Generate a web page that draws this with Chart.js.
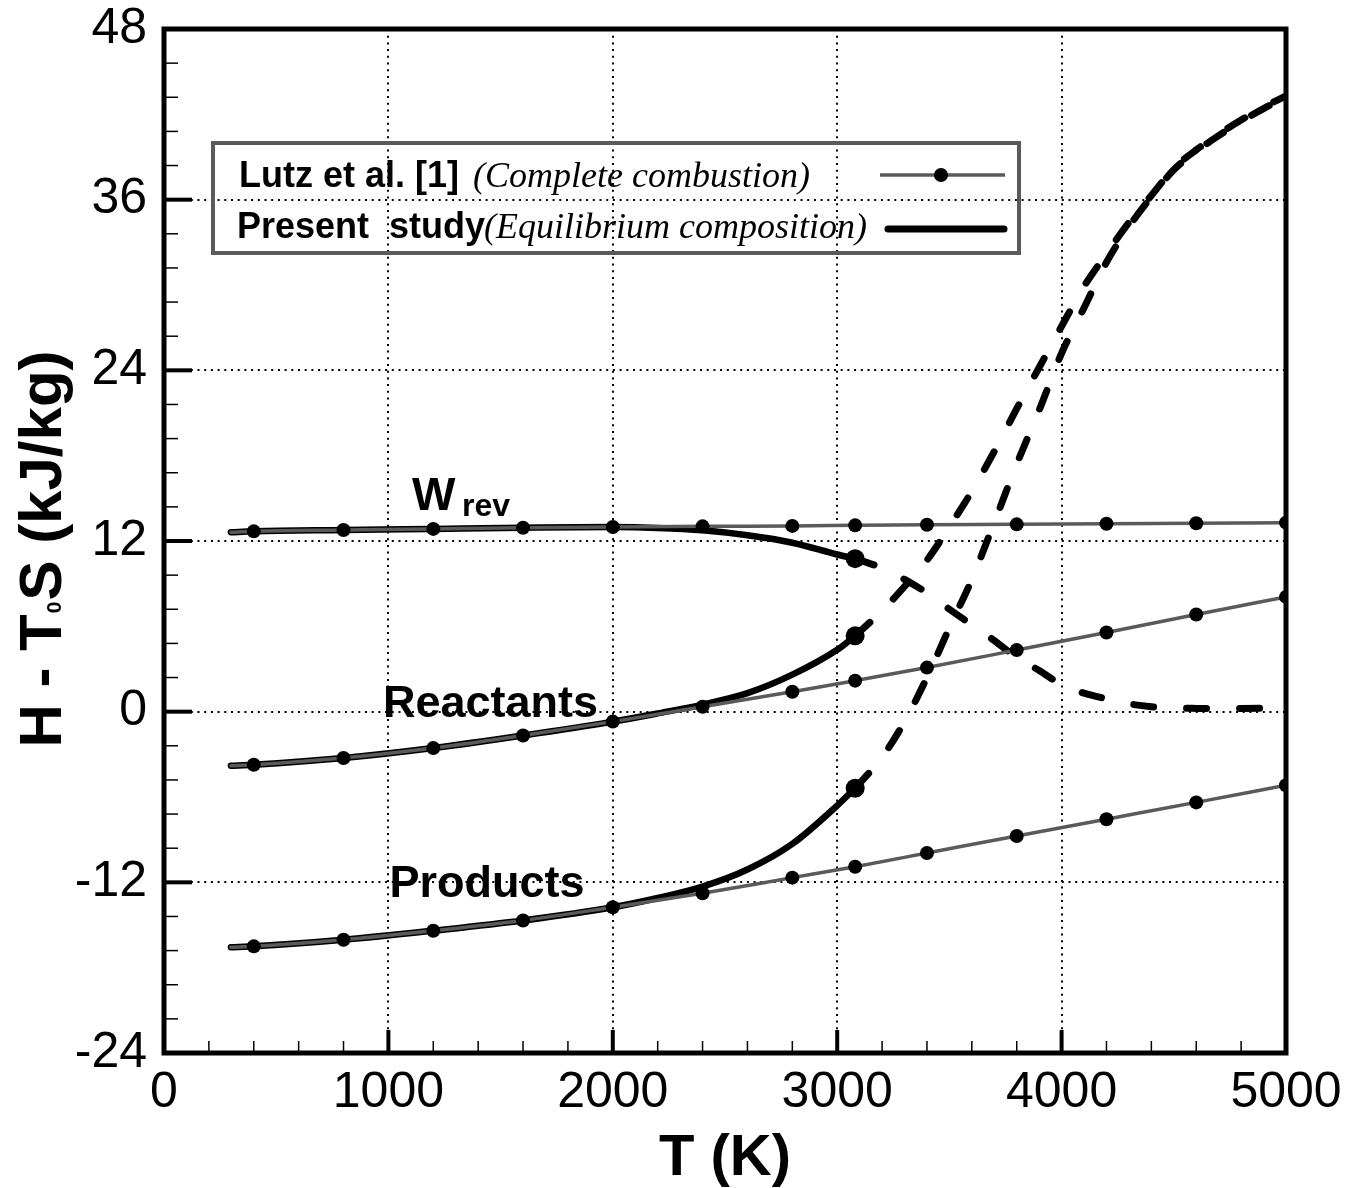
<!DOCTYPE html>
<html>
<head>
<meta charset="utf-8">
<script src="https://cdn.jsdelivr.net/npm/chart.js@4.4.0/dist/chart.umd.min.js"></script>
<style>
  html, body { margin: 0; padding: 0; background: #fff; }
  canvas { display: block; }
</style>
</head>
<body>
<canvas id="myChart" width="1352" height="1188"></canvas>
<script>
// Lutz et al. [1] (complete combustion)
const lutzT = [298, 400, 800, 1200, 1600, 2000, 2400, 2800, 3080, 3400, 3800, 4200, 4600, 5000];
const lutzWrev = [12.62, 12.68, 12.77, 12.85, 12.93, 12.98, 13.03, 13.06, 13.1, 13.14, 13.17, 13.21, 13.25, 13.29];
const lutzReact = [-3.8, -3.73, -3.26, -2.56, -1.68, -0.7, 0.35, 1.4, 2.18, 3.1, 4.33, 5.57, 6.83, 8.07];
const lutzProd = [-16.56, -16.5, -16.04, -15.4, -14.68, -13.75, -12.77, -11.67, -10.9, -9.94, -8.74, -7.56, -6.38, -5.17];

// Present study (equilibrium composition), solid part
const presT = [298, 400, 800, 1200, 1600, 2000, 2200, 2400, 2600, 2800, 3000, 3080];
const presWrev = [12.62, 12.68, 12.77, 12.85, 12.93, 12.98, 12.92, 12.75, 12.4, 11.88, 11.05, 10.76];
const presReact = [-3.8, -3.73, -3.26, -2.56, -1.68, -0.7, -0.12, 0.5, 1.3, 2.6, 4.35, 5.33];
const presProd = [-16.56, -16.5, -16.04, -15.4, -14.68, -13.75, -13.1, -12.3, -11.1, -9.3, -6.6, -5.38];

// Present study, dashed continuation
const dashT = [3080, 3200, 3300, 3400, 3500, 3600, 3700, 3800, 3900, 4000, 4100, 4200, 4300, 4400, 4500, 4600, 4700, 4800, 4900, 5000];
const dashWrev = [10.76, 10.1, 9.3, 8.35, 7.2, 6.1, 5.0, 3.8, 2.9, 1.9, 1.3, 0.9, 0.55, 0.35, 0.25, 0.23, 0.22, 0.23, 0.24, 0.25];
const dashReact = [5.33, 7.1, 8.8, 10.65, 13.0, 15.5, 18.3, 21.3, 24.2, 27.1, 29.9, 32.2, 34.4, 36.3, 38.2, 39.5, 40.6, 41.6, 42.5, 43.3];
const dashProd = [-5.38, -3.2, -0.7, 2.4, 5.9, 9.3, 13.3, 17.4, 21.2, 25.2, 28.4, 31.6, 34.1, 36.2, 38.1, 39.4, 40.5, 41.5, 42.4, 43.2];

const xTicks = [0, 1000, 2000, 3000, 4000, 5000];
const yTicks = [-24, -12, 0, 12, 24, 36, 48];

const SANS = "'Liberation Sans', Arial, sans-serif";
const SERIF = "'Liberation Serif', 'Times New Roman', serif";
const GRAY = '#5a5a5a';

const pts = (xs, ys) => xs.map((x, i) => ({ x: x, y: ys[i] }));

function lutzSet(ys) {
    return {
        data: pts(lutzT, ys),
        borderColor: GRAY,
        borderWidth: 3.5,
        borderCapStyle: 'round',
        cubicInterpolationMode: 'monotone',
        pointRadius: c => c.dataIndex === 0 ? 0 : 7,
        pointBackgroundColor: '#000',
        pointBorderWidth: 0
    };
}
function presSet(ys) {
    return {
        data: pts(presT, ys),
        borderColor: '#000',
        borderWidth: 6.5,
        borderCapStyle: 'round',
        cubicInterpolationMode: 'monotone',
        pointRadius: c => c.dataIndex === presT.length - 1 ? 9.5 : 0,
        pointBackgroundColor: '#000',
        pointBorderWidth: 0
    };
}
function dashSet(ys) {
    return {
        data: pts(dashT, ys),
        borderColor: '#000',
        borderWidth: 7,
        borderDash: [20, 33],
        borderCapStyle: 'round',
        cubicInterpolationMode: 'monotone',
        pointRadius: 0
    };
}

// inward ticks, frame, legend, labels, y title
const decor = {
    id: 'decor',
    beforeDraw(chart) {
        const ctx = chart.ctx;
        ctx.save();
        ctx.fillStyle = '#fff';
        ctx.fillRect(0, 0, chart.width, chart.height);
        ctx.restore();
    },
    afterDraw(chart) {
        const ctx = chart.ctx;
        const a = chart.chartArea;
        const xs = chart.scales.x, ys = chart.scales.y;
        ctx.save();

        // minor + major ticks
        ctx.strokeStyle = '#000';
        for (let t = 0; t <= 5000; t += 200) {
            const px = xs.getPixelForValue(t);
            const major = t % 1000 === 0;
            ctx.lineWidth = major ? 4 : 1.5;
            ctx.beginPath();
            ctx.moveTo(px, a.bottom);
            ctx.lineTo(px, a.bottom - (major ? 23 : 12));
            ctx.stroke();
        }
        for (let k = 0; k <= 30; k++) {
            const v = -24 + k * 2.4;
            const py = ys.getPixelForValue(v);
            const major = k % 5 === 0;
            ctx.lineWidth = major ? 4 : 1.5;
            ctx.beginPath();
            ctx.moveTo(a.left, py);
            ctx.lineTo(a.left + (major ? 28 : 14), py);
            ctx.stroke();
        }

        // frame
        ctx.lineWidth = 5;
        ctx.strokeRect(a.left, a.top, a.right - a.left, a.bottom - a.top);

        // legend
        ctx.strokeStyle = GRAY;
        ctx.lineWidth = 4;
        ctx.strokeRect(213, 143, 806, 110);
        ctx.fillStyle = '#000';
        ctx.textBaseline = 'alphabetic';
        ctx.textAlign = 'left';
        ctx.font = 'bold 36px ' + SANS;
        ctx.fillText('Lutz et al. [1]', 239, 187);
        ctx.fillText('Present  study', 237, 238);
        ctx.font = 'italic 36px ' + SERIF;
        ctx.fillText('(Complete combustion)', 473, 187);
        ctx.fillText('(Equilibrium composition)', 484, 238);
        ctx.strokeStyle = GRAY;
        ctx.lineWidth = 3.5;
        ctx.beginPath(); ctx.moveTo(880, 175); ctx.lineTo(1005, 175); ctx.stroke();
        ctx.beginPath(); ctx.arc(941, 175, 7, 0, Math.PI * 2); ctx.fill();
        ctx.strokeStyle = '#000';
        ctx.lineWidth = 7;
        ctx.lineCap = 'round';
        ctx.beginPath(); ctx.moveTo(888, 229); ctx.lineTo(1004, 229); ctx.stroke();

        // curve labels
        const lab = (txt, t, v, size) => {
            ctx.font = 'bold ' + size + 'px ' + SANS;
            ctx.fillText(txt, xs.getPixelForValue(t), ys.getPixelForValue(v));
        };
        lab('W', 1105, 14.15, 46);
        lab('rev', 1328, 13.78, 32);
        lab('Reactants', 976, -0.35, 45);
        lab('Products', 1005, -13.05, 45);

        // y axis title with subscript
        ctx.translate(61, 549);
        ctx.rotate(-Math.PI / 2);
        const big = 'bold 60px ' + SANS, small = 'bold 21px ' + SANS;
        ctx.font = big; const w1 = ctx.measureText('H - T').width;
        const w3 = ctx.measureText('S (kJ/kg)').width;
        ctx.font = small; const w2 = ctx.measureText('0').width + 2;
        let x0 = -(w1 + w2 + w3) / 2;
        ctx.font = big; ctx.fillText('H - T', x0, 0);
        ctx.font = small; ctx.fillText('0', x0 + w1 + 1, 0);
        ctx.font = big; ctx.fillText('S (kJ/kg)', x0 + w1 + w2, 0);
        ctx.restore();
    }
};

const ctx = document.getElementById('myChart').getContext('2d');
const myChart = new Chart(ctx, {
    type: 'line',
    data: {
        datasets: [
            lutzSet(lutzWrev), lutzSet(lutzReact), lutzSet(lutzProd),
            presSet(presWrev), presSet(presReact), presSet(presProd),
            dashSet(dashWrev), dashSet(dashReact), dashSet(dashProd)
        ]
    },
    options: {
        responsive: false,
        animation: false,
        devicePixelRatio: 1,
        layout: { padding: { top: 29, right: 66, left: 0, bottom: 0 } },
        plugins: { legend: { display: false }, tooltip: { enabled: false } },
        scales: {
            x: {
                type: 'linear',
                min: 0,
                max: 5000,
                afterBuildTicks: s => { s.ticks = xTicks.map(v => ({ value: v })); },
                afterFit: s => { s.height = 135; s.paddingLeft = 0; s.paddingRight = 0; },
                ticks: { color: '#000', font: { family: SANS, size: 50 }, padding: 10, maxRotation: 0, autoSkip: false, callback: v => String(v) },
                grid: { color: '#000', lineWidth: 2, drawTicks: false },
                border: { display: false, dash: [2, 4.7] },
                title: { display: true, text: 'T (K)', color: '#000', font: { family: SANS, size: 58, weight: 'bold', lineHeight: 1 }, padding: 0 }
            },
            y: {
                min: -24,
                max: 48,
                afterBuildTicks: s => { s.ticks = yTicks.map(v => ({ value: v })); },
                afterFit: s => { s.width = 164; s.paddingTop = 0; s.paddingBottom = 0; },
                ticks: { color: '#000', font: { family: SANS, size: 50 }, padding: 17, callback: v => String(v) },
                grid: { color: '#000', lineWidth: 2, drawTicks: false },
                border: { display: false, dash: [2, 4.7] }
            }
        }
    },
    plugins: [decor]
});
</script>
</body>
</html>
